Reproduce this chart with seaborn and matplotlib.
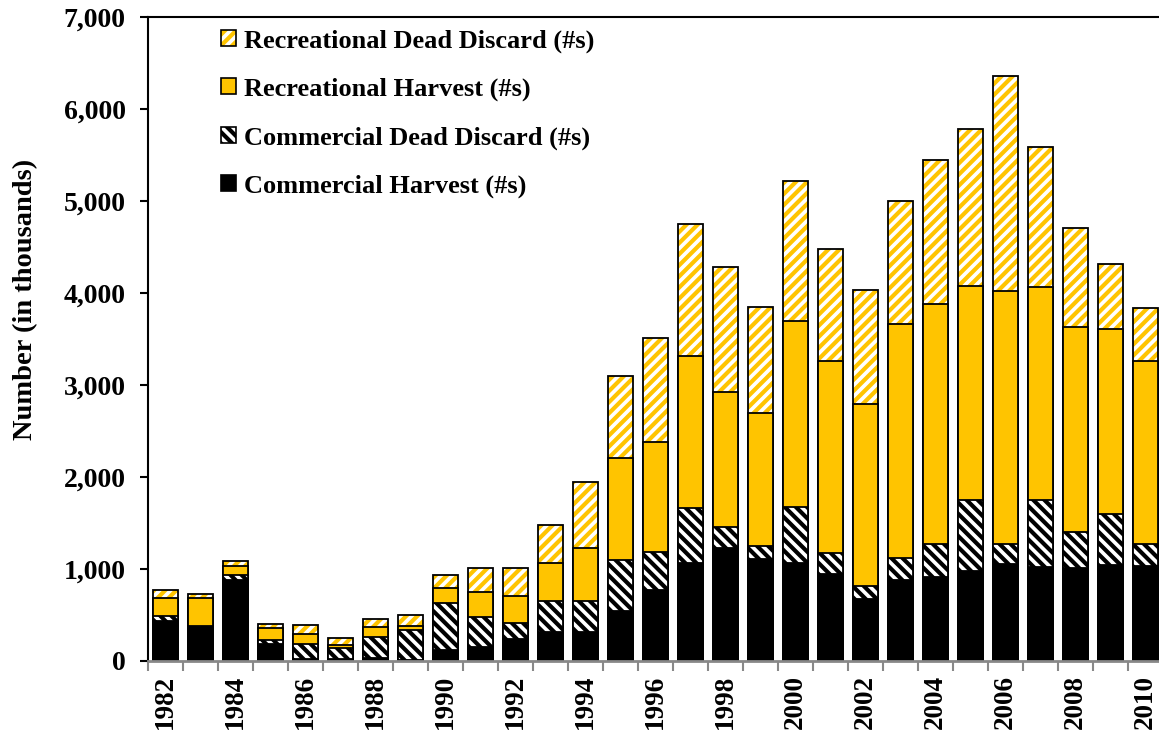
import numpy as np
import matplotlib
matplotlib.use("Agg")
import matplotlib.pyplot as plt
from matplotlib.patches import Patch
from matplotlib.ticker import FuncFormatter, FixedLocator, MultipleLocator
import seaborn as sns

# values (thousands of fish)
years = [str(y) for y in range(1982, 2011)]
comm_harvest = [430, 370, 880, 180, 25, 20, 30, 10, 120, 155, 235, 320, 310, 545, 770,
                1060, 1230, 1110, 1060, 945, 670, 880, 915, 980, 1055, 1025, 1015, 1045, 1035]
comm_discard = [60, 15, 50, 45, 160, 120, 235, 330, 510, 320, 180, 335, 345, 555, 410,
                600, 230, 145, 610, 230, 150, 245, 355, 770, 215, 730, 385, 555, 235]
rec_harvest = [200, 300, 100, 135, 110, 35, 100, 45, 160, 270, 290, 415, 570, 1110, 1200,
               1660, 1460, 1445, 2025, 2085, 1970, 2540, 2615, 2325, 2755, 2310, 2235, 2010, 1990]
rec_discard = [80, 45, 55, 40, 100, 70, 95, 110, 145, 270, 305, 405, 725, 890, 1130,
               1430, 1365, 1150, 1520, 1215, 1245, 1340, 1560, 1710, 2335, 1520, 1070, 700, 580]

GOLD = "#FFC400"

sns.set_style("ticks")
plt.rcParams["font.family"] = ["Liberation Serif", "DejaVu Serif"]
plt.rcParams["font.weight"] = "bold"
plt.rcParams["hatch.linewidth"] = 3.0
for k in ["text.color", "axes.labelcolor", "xtick.color", "ytick.color"]:
    plt.rcParams[k] = "black"

ch = np.array(comm_harvest)
lvl2 = ch + np.array(comm_discard)
lvl3 = lvl2 + np.array(rec_harvest)
lvl4 = lvl3 + np.array(rec_discard)

fig = plt.figure(figsize=(11.59, 7.33), dpi=100)
ax = fig.add_axes([148 / 1159, 72 / 733, 1015 / 1159, 644 / 733])

bw = 0.69
lw = 1.3
common = dict(ax=ax, width=bw, saturation=1, errorbar=None)

# stacked bars drawn as overlapping cumulative totals, top layer first
sns.barplot(x=years, y=lvl4, color="white", edgecolor=GOLD, hatch="///", linewidth=0, **common)
sns.barplot(x=years, y=lvl4, fill=False, edgecolor="black", linewidth=lw, **common)
sns.barplot(x=years, y=lvl3, color=GOLD, edgecolor="black", linewidth=lw, **common)
sns.barplot(x=years, y=lvl2, color="white", edgecolor="black", hatch="\\\\\\", linewidth=lw, **common)
sns.barplot(x=years, y=ch, color="black", edgecolor="black", linewidth=lw, **common)

ax.set_xlim(-0.5, len(years) - 0.5)
ax.set_ylim(0, 7000)
ax.yaxis.set_major_locator(MultipleLocator(1000))
ax.yaxis.set_major_formatter(FuncFormatter(lambda v, p: f"{v:,.0f}"))

ax.xaxis.set_major_locator(FixedLocator(range(0, len(years), 2)))
ax.set_xticklabels(years[::2], rotation=90)
ax.xaxis.set_minor_locator(FixedLocator(np.arange(-0.5, len(years), 1)))
ax.tick_params(axis="x", which="major", length=0, labelsize=19.5, pad=10)
ax.tick_params(axis="x", which="minor", length=7, width=1.5, color="#888888")
ax.tick_params(axis="y", length=6, width=1.5, color="black", labelsize=20, pad=10)

ax.set_xlabel("")
ax.set_ylabel("Number (in thousands)", fontsize=20.5, fontweight="bold")
ax.yaxis.set_label_coords(-0.108, 0.562)

for s in ax.spines.values():
    s.set_linewidth(1.5)
    s.set_color("black")
ax.spines["bottom"].set_color("#888888")
ax.spines["bottom"].set_linewidth(2)

handles = [
    (Patch(facecolor="white", edgecolor=GOLD, hatch="///", linewidth=0),
     Patch(facecolor="none", edgecolor="black", linewidth=1.2)),
    Patch(facecolor=GOLD, edgecolor="black", linewidth=1.2),
    Patch(facecolor="white", edgecolor="black", hatch="\\\\\\", linewidth=1.2),
    Patch(facecolor="black", edgecolor="black", linewidth=1.2),
]
labels = ["Recreational Dead Discard (#s)", "Recreational Harvest (#s)",
          "Commercial Dead Discard (#s)", "Commercial Harvest (#s)"]
ax.legend(handles, labels, loc="upper left", bbox_to_anchor=(0.049, 1.018), frameon=False,
          prop={"size": 19, "weight": "bold"}, handlelength=0.55, handleheight=0.55,
          handletextpad=0.3, labelspacing=0.95)

fig.savefig("out.png", dpi=100)
